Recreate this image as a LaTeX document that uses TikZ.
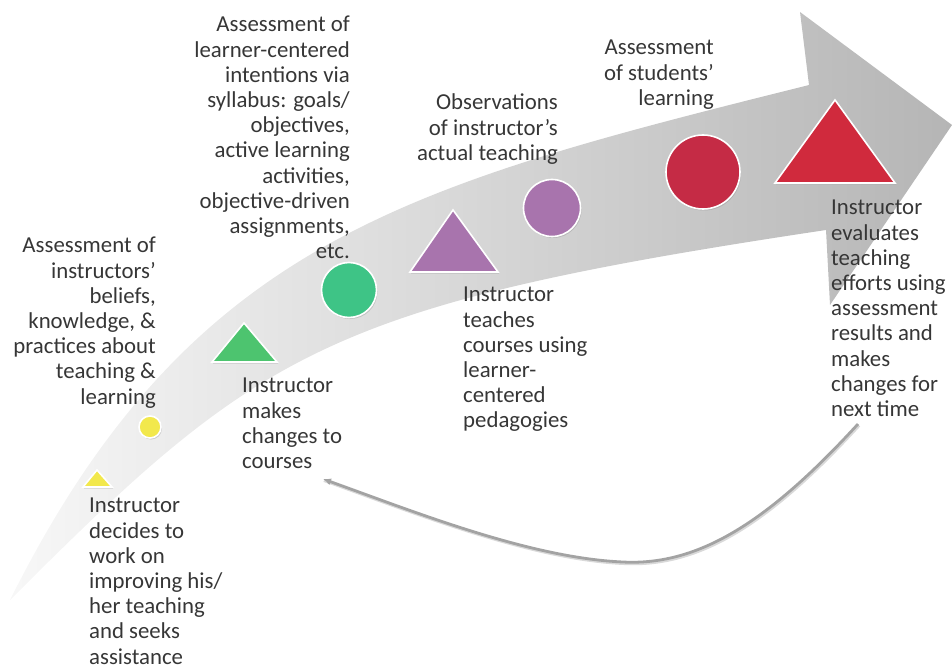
\documentclass[tikz,border=0pt]{standalone}
\usepackage{fontspec}
\setmainfont{Carlito}
\usetikzlibrary{arrows.meta,shadows}

\definecolor{txtgray}{HTML}{363636}
\definecolor{arrgray}{HTML}{A3A3A3}
\definecolor{ylw}{HTML}{F2E84C}
\definecolor{grntri}{HTML}{4DC46F}
\definecolor{grncirc}{HTML}{3EC486}
\definecolor{prpl}{HTML}{A874AD}
\definecolor{redcirc}{HTML}{C52B45}
\definecolor{redtri}{HTML}{D02A3D}
\newcommand{\lblfont}{\fontsize{22.8}{25.2}\selectfont}

\begin{document}
\begin{tikzpicture}[x=1pt,y=-1pt,
    lbl/.style={font=\lblfont, text=txtgray, inner sep=0pt},
    lblr/.style={lbl, align=right, anchor=north east},
    lbll/.style={lbl, align=left, anchor=north west},
    shapebox/.style={draw=white, line width=1.6pt,
      drop shadow={shadow xshift=1pt, shadow yshift=-1.5pt, opacity=0.3}},
    back/.style={draw=arrgray, line width=2.8pt, -{Latex[length=8pt,width=7pt]},
      preaction={draw=black!15, line width=3pt, -, transform canvas={shift={(1pt,-1.5pt)}}}}]
  \useasboundingbox (0,0) rectangle (952,668);
  % big curved arrow
  \coordinate (tail) at (10,600);
  \coordinate (notchU) at (809,85);
  \coordinate (headU) at (800,12);
  \coordinate (tip) at (952,125);
  \coordinate (headL) at (830,305);
  \coordinate (notchL) at (826,230);
  \shade[left color=black!3, right color=black!29]
    (tail) .. controls (190,240) and (409,185) .. (notchU) -- (headU) -- (tip)
    -- (headL) -- (notchL) .. controls (326,305) and (260,350) .. (tail) -- cycle;
  % markers
  \draw[shapebox, fill=ylw] (83,487) -- (97,470) -- (112,487) -- cycle;
  \draw[shapebox, fill=ylw] (150,427) circle (11pt);
  \draw[shapebox, fill=grntri] (212,362) -- (244,323) -- (277,362) -- cycle;
  \draw[shapebox, fill=grncirc] (349,290) circle (27.5pt);
  \draw[shapebox, fill=prpl] (410,272) -- (453,210) -- (498,272) -- cycle;
  \draw[shapebox, fill=prpl] (552,208) circle (28.5pt);
  \draw[shapebox, fill=redcirc] (703,172) circle (37pt);
  \draw[shapebox, fill=redtri] (775,183) -- (835,100) -- (895,183) -- cycle;
  % labels
  \node[lblr] (intent) at (350,14) {\strut Assessment of\\learner-centered\\intentions via\\syllabus: goals/\\objectives,\\active learning\\activities,\\objective-driven\\assignments,\\etc.};
  \node[lblr] (belief) at (156,235) {\strut Assessment of\\instructors’\\beliefs,\\knowledge, \&\\practices about\\teaching \&\\learning};
  \node[lbll] (decide) at (89,495) {\strut Instructor\\decides to\\work on\\improving his/\\her teaching\\and seeks\\assistance};
  \node[lbll] (chg) at (242,375) {\strut Instructor\\makes\\changes to\\courses};
  \node[lblr] (obs) at (558,92) {\strut Observations\\of instructor’s\\actual teaching};
  \node[lbll] (teach) at (463,284) {\strut Instructor\\teaches\\courses using\\learner-\\centered\\pedagogies};
  \node[lblr] (stud) at (714,37) {\strut Assessment\\of students’\\learning};
  \node[lbll] (ev) at (831,197) {\strut Instructor\\evaluates\\teaching\\efforts using\\assessment\\results and\\makes\\changes for\\next time};
  % loop back
  \coordinate (fromEv) at (858,424);
  \coordinate (toChg) at (323,479);
  \draw[back] (fromEv) .. controls (770,520) and (700,566) .. (623,562)
    .. controls (530,558) and (415,512) .. (toChg);
\end{tikzpicture}
\end{document}
